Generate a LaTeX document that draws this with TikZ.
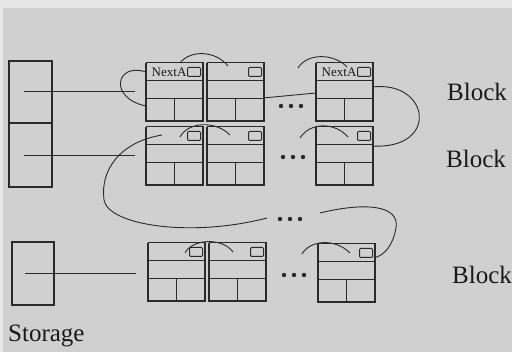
\documentclass[tikz,border=0pt]{standalone}
\usepackage{fontspec}
\setmainfont{Liberation Serif}
\usetikzlibrary{calc}
\definecolor{paper}{RGB}{208,208,208}
\definecolor{paperedge}{RGB}{230,230,230}
\definecolor{ink}{RGB}{42,42,42}
\definecolor{textink}{RGB}{25,25,25}
\tikzset{
  blkframe/.style={draw=ink, line width=1pt, rectangle, minimum width=57pt,
    minimum height=58pt, inner sep=0pt, outer sep=0pt},
  blkline/.style={draw=ink, line width=0.9pt},
  heavy/.style={draw=ink, line width=1.9pt, line join=miter},
  slot/.style={draw=ink, line width=0.9pt, rectangle, rounded corners=1pt,
    minimum width=13pt, minimum height=9pt, inner sep=0pt},
  link/.style={draw=ink, line width=0.9pt},
  store/.style={draw=ink, line width=1.1pt, rectangle, inner sep=0pt,
    outer sep=0pt, anchor=north west},
  lbl/.style={font=\fontsize{25}{25}\selectfont, text=textink, inner sep=0pt, anchor=base west},
  tag/.style={font=\fontsize{13}{13}\selectfont, text=textink, inner sep=0pt, anchor=east},
  dotmark/.style={fill=ink, circle, inner sep=0pt, minimum size=4.4pt},
}
% one memory block: name, left, top, tag text in the header
\newcommand{\memblk}[4]{%
  \node[blkframe, anchor=north west] (#1) at (#2,#3) {};
  \draw[blkline] ($(#1.north west)+(0,17)$) -- ($(#1.north east)+(0,17)$);
  \draw[blkline] ($(#1.north west)+(0,35)$) -- ($(#1.north east)+(0,35)$);
  \draw[blkline] ($(#1.north)+(0,35)$) -- (#1.south);
  \draw[heavy] (#1.north west) -- (#1.south west) -- (#1.south east) -- (#1.north east);
  \node[slot, anchor=north east] (#1-s) at ($(#1.north east)+(-2,4)$) {};
  \node[tag] (#1-t) at ($(#1-s.west)+(-0.5,0)$) {#4};
}
% three dots
\newcommand{\ellip}[3]{%
  \node[dotmark] (#1a) at (#2,#3) {};
  \node[dotmark] (#1b) at (#2+10,#3) {};
  \node[dotmark] (#1c) at (#2+20,#3) {};
}
\begin{document}
\begin{tikzpicture}[x=1pt, y=-1pt]
  \useasboundingbox (0,0) rectangle (512,352);
  \fill[paperedge] (0,0) rectangle (512,352);
  \fill[paper] (3,8) rectangle (512,352);

  % storage
  \node[store, minimum width=43pt, minimum height=62pt] (st1) at (9,61) {};
  \node[store, minimum width=43pt, minimum height=64pt] (st2) at (9,123) {};
  \draw[ink, line width=2pt] (st1.south west) -- (st1.south east);
  \node[store, minimum width=42pt, minimum height=63pt] (st3) at (12,242) {};

  % blocks
  \memblk{a1}{146}{63}{NextA}
  \memblk{a2}{207}{63}{}
  \memblk{a3}{316}{63}{NextA}
  \memblk{b1}{146}{127}{}
  \memblk{b2}{207}{127}{}
  \memblk{b3}{316}{127}{}
  \memblk{c1}{148}{243}{}
  \memblk{c2}{209}{243}{}
  \memblk{c3}{318}{244}{}

  % ellipses
  \ellip{da}{281}{106}
  \ellip{db}{283}{157}
  \ellip{dm}{280}{219}
  \ellip{dc}{284}{275}

  % pointers from storage
  \coordinate (s1) at (24,91);  \coordinate (e1) at (135,91);
  \coordinate (s2) at (24,155); \coordinate (e2) at (135,155);
  \coordinate (s3) at (25,273); \coordinate (e3) at (136,273);
  \draw[link] (s1) -- (e1);
  \draw[link] (s2) -- (e2);
  \draw[link] (s3) -- (e3);

  % chain links, top row
  \coordinate (l1a) at (146,72);  \coordinate (l1b) at (146,106);
  \draw[link] (l1a) .. controls (116,62) and (108,98) .. (l1b);
  \coordinate (l2a) at (180,63);  \coordinate (l2b) at (228,66);
  \draw[link] (l2a) .. controls (190,50) and (215,50) .. (l2b);
  \coordinate (l3a) at (298,68);  \coordinate (l3b) at (347,67);
  \draw[link] (l3a) .. controls (308,52) and (335,54) .. (l3b);
  \coordinate (l4a) at (263,98);  \coordinate (l4b) at (316,93);
  \draw[link] (l4a) -- (l4b);
  \coordinate (l5a) at (372,87);  \coordinate (l5b) at (372,146);
  \draw[link] (l5a) .. controls (430,80) and (440,150) .. (l5b);

  % middle row
  \coordinate (m1a) at (180,137); \coordinate (m1b) at (230,135);
  \draw[link] (m1a) .. controls (188,122) and (215,120) .. (m1b);
  \coordinate (m2a) at (300,138); \coordinate (m2b) at (348,137);
  \draw[link] (m2a) .. controls (310,122) and (335,122) .. (m2b);
  \coordinate (m3a) at (162,135); \coordinate (m3m) at (104,200); \coordinate (m3b) at (267,218);
  \draw[link] (m3a) .. controls (120,142) and (100,170) .. (m3m)
                    .. controls (108,225) and (190,238) .. (m3b);
  \coordinate (m4a) at (320,213); \coordinate (m4m) at (396,228); \coordinate (m4b) at (374,258);
  \draw[link] (m4a) .. controls (365,202) and (400,205) .. (m4m)
                    .. controls (393,245) and (385,255) .. (m4b);

  % bottom row
  \coordinate (n1a) at (185,253); \coordinate (n1b) at (233,252);
  \draw[link] (n1a) .. controls (192,239) and (222,237) .. (n1b);
  \coordinate (n2a) at (302,254); \coordinate (n2b) at (350,253);
  \draw[link] (n2a) .. controls (310,240) and (335,238) .. (n2b);

  % labels
  \node[lbl] (bk1) at (447,101) {Block};
  \node[lbl] (bk2) at (446,168) {Block};
  \node[lbl] (bk3) at (452,284) {Block};
  \node[lbl] (sto) at (8,342) {Storage};
\end{tikzpicture}
\end{document}
